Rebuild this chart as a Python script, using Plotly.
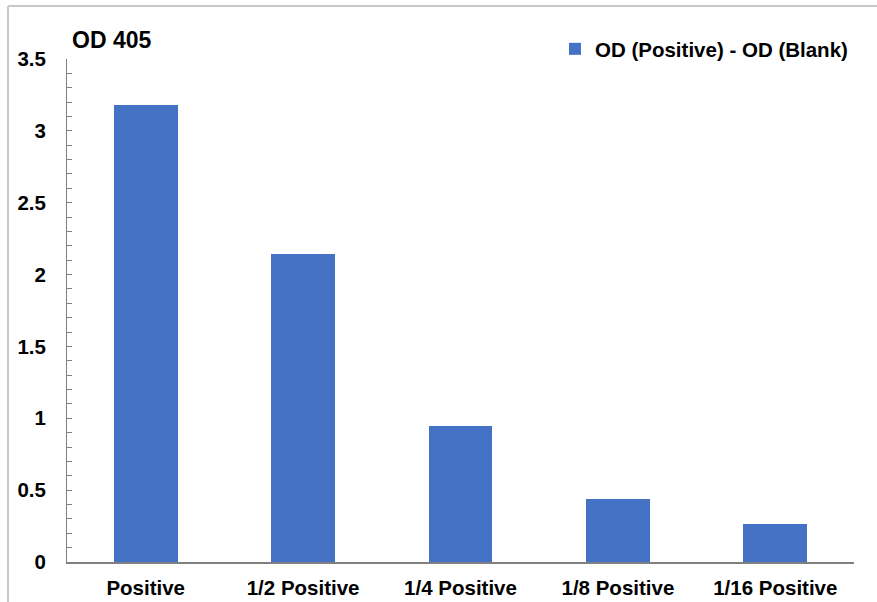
import plotly.graph_objects as go

categories = ["Positive", "1/2 Positive", "1/4 Positive", "1/8 Positive", "1/16 Positive"]
values = [3.18, 2.14, 0.946, 0.44, 0.264]
series_name = "OD (Positive) - OD (Blank)"
y_ticks = [0, 0.5, 1, 1.5, 2, 2.5, 3, 3.5]
y_tick_labels = ["0", "0.5", "1", "1.5", "2", "2.5", "3", "3.5"]

W, H = 877, 602
L, R, T, B = 67, 23, 59, 40
pw, ph = W - L - R, H - T - B

def px_x(px):
    return (px - L) / pw

def px_y(py):
    return (H - B - py) / ph

FONT = "Liberation Sans, Arial, sans-serif"
FS = 20.5

fig = go.Figure()
fig.add_trace(go.Bar(
    x=categories, y=values, name=series_name,
    marker=dict(color="#4472C4", line=dict(width=0)),
    width=0.406, showlegend=True,
))

fig.update_layout(
    width=W, height=H,
    margin=dict(l=L, r=R, t=T, b=B),
    paper_bgcolor="white", plot_bgcolor="white",
    font=dict(family=FONT, size=FS, color="black"),
    showlegend=True,
    legend=dict(
        x=px_x(555), y=px_y(29), xanchor="left", yanchor="top",
        bgcolor="rgba(0,0,0,0)", borderwidth=0,
        font=dict(family=FONT, size=FS, color="black", weight="bold"),
    ),
    xaxis=dict(
        showline=True, linecolor="#808080", linewidth=2,
        ticks="", showgrid=False, automargin=False,
        tickfont=dict(family=FONT, size=FS, color="black", weight="bold"),
        range=[-0.5, 4.5],
        ticklabelstandoff=6,
    ),
    yaxis=dict(
        range=[0, 3.5], showline=True, linecolor="#808080", linewidth=1,
        tickvals=y_ticks, ticktext=y_tick_labels, automargin=False,
        ticks="inside", ticklen=5, tickcolor="#808080", tickwidth=1,
        minor=dict(dtick=0.1, ticks="inside", ticklen=5, tickcolor="#808080", tickwidth=1),
        showgrid=False, zeroline=False,
        tickfont=dict(family=FONT, size=FS, color="black", weight="bold"),
        ticklabelstandoff=16,
    ),
    bargap=0,
)

fig.add_annotation(
    text="OD 405", xref="paper", yref="paper",
    x=px_x(70), y=px_y(40), xanchor="left", yanchor="middle",
    showarrow=False,
    font=dict(family=FONT, size=23, color="black", weight="bold"),
)

# chart border (top and left visible)
fig.add_shape(type="line", xref="paper", yref="paper",
              x0=px_x(8), x1=px_x(W + 5), y0=px_y(6), y1=px_y(6),
              line=dict(color="#C8C8C8", width=2))
fig.add_shape(type="line", xref="paper", yref="paper",
              x0=px_x(8), x1=px_x(8), y0=px_y(6), y1=px_y(H + 5),
              line=dict(color="#C8C8C8", width=2))

fig.write_html("out.html")
